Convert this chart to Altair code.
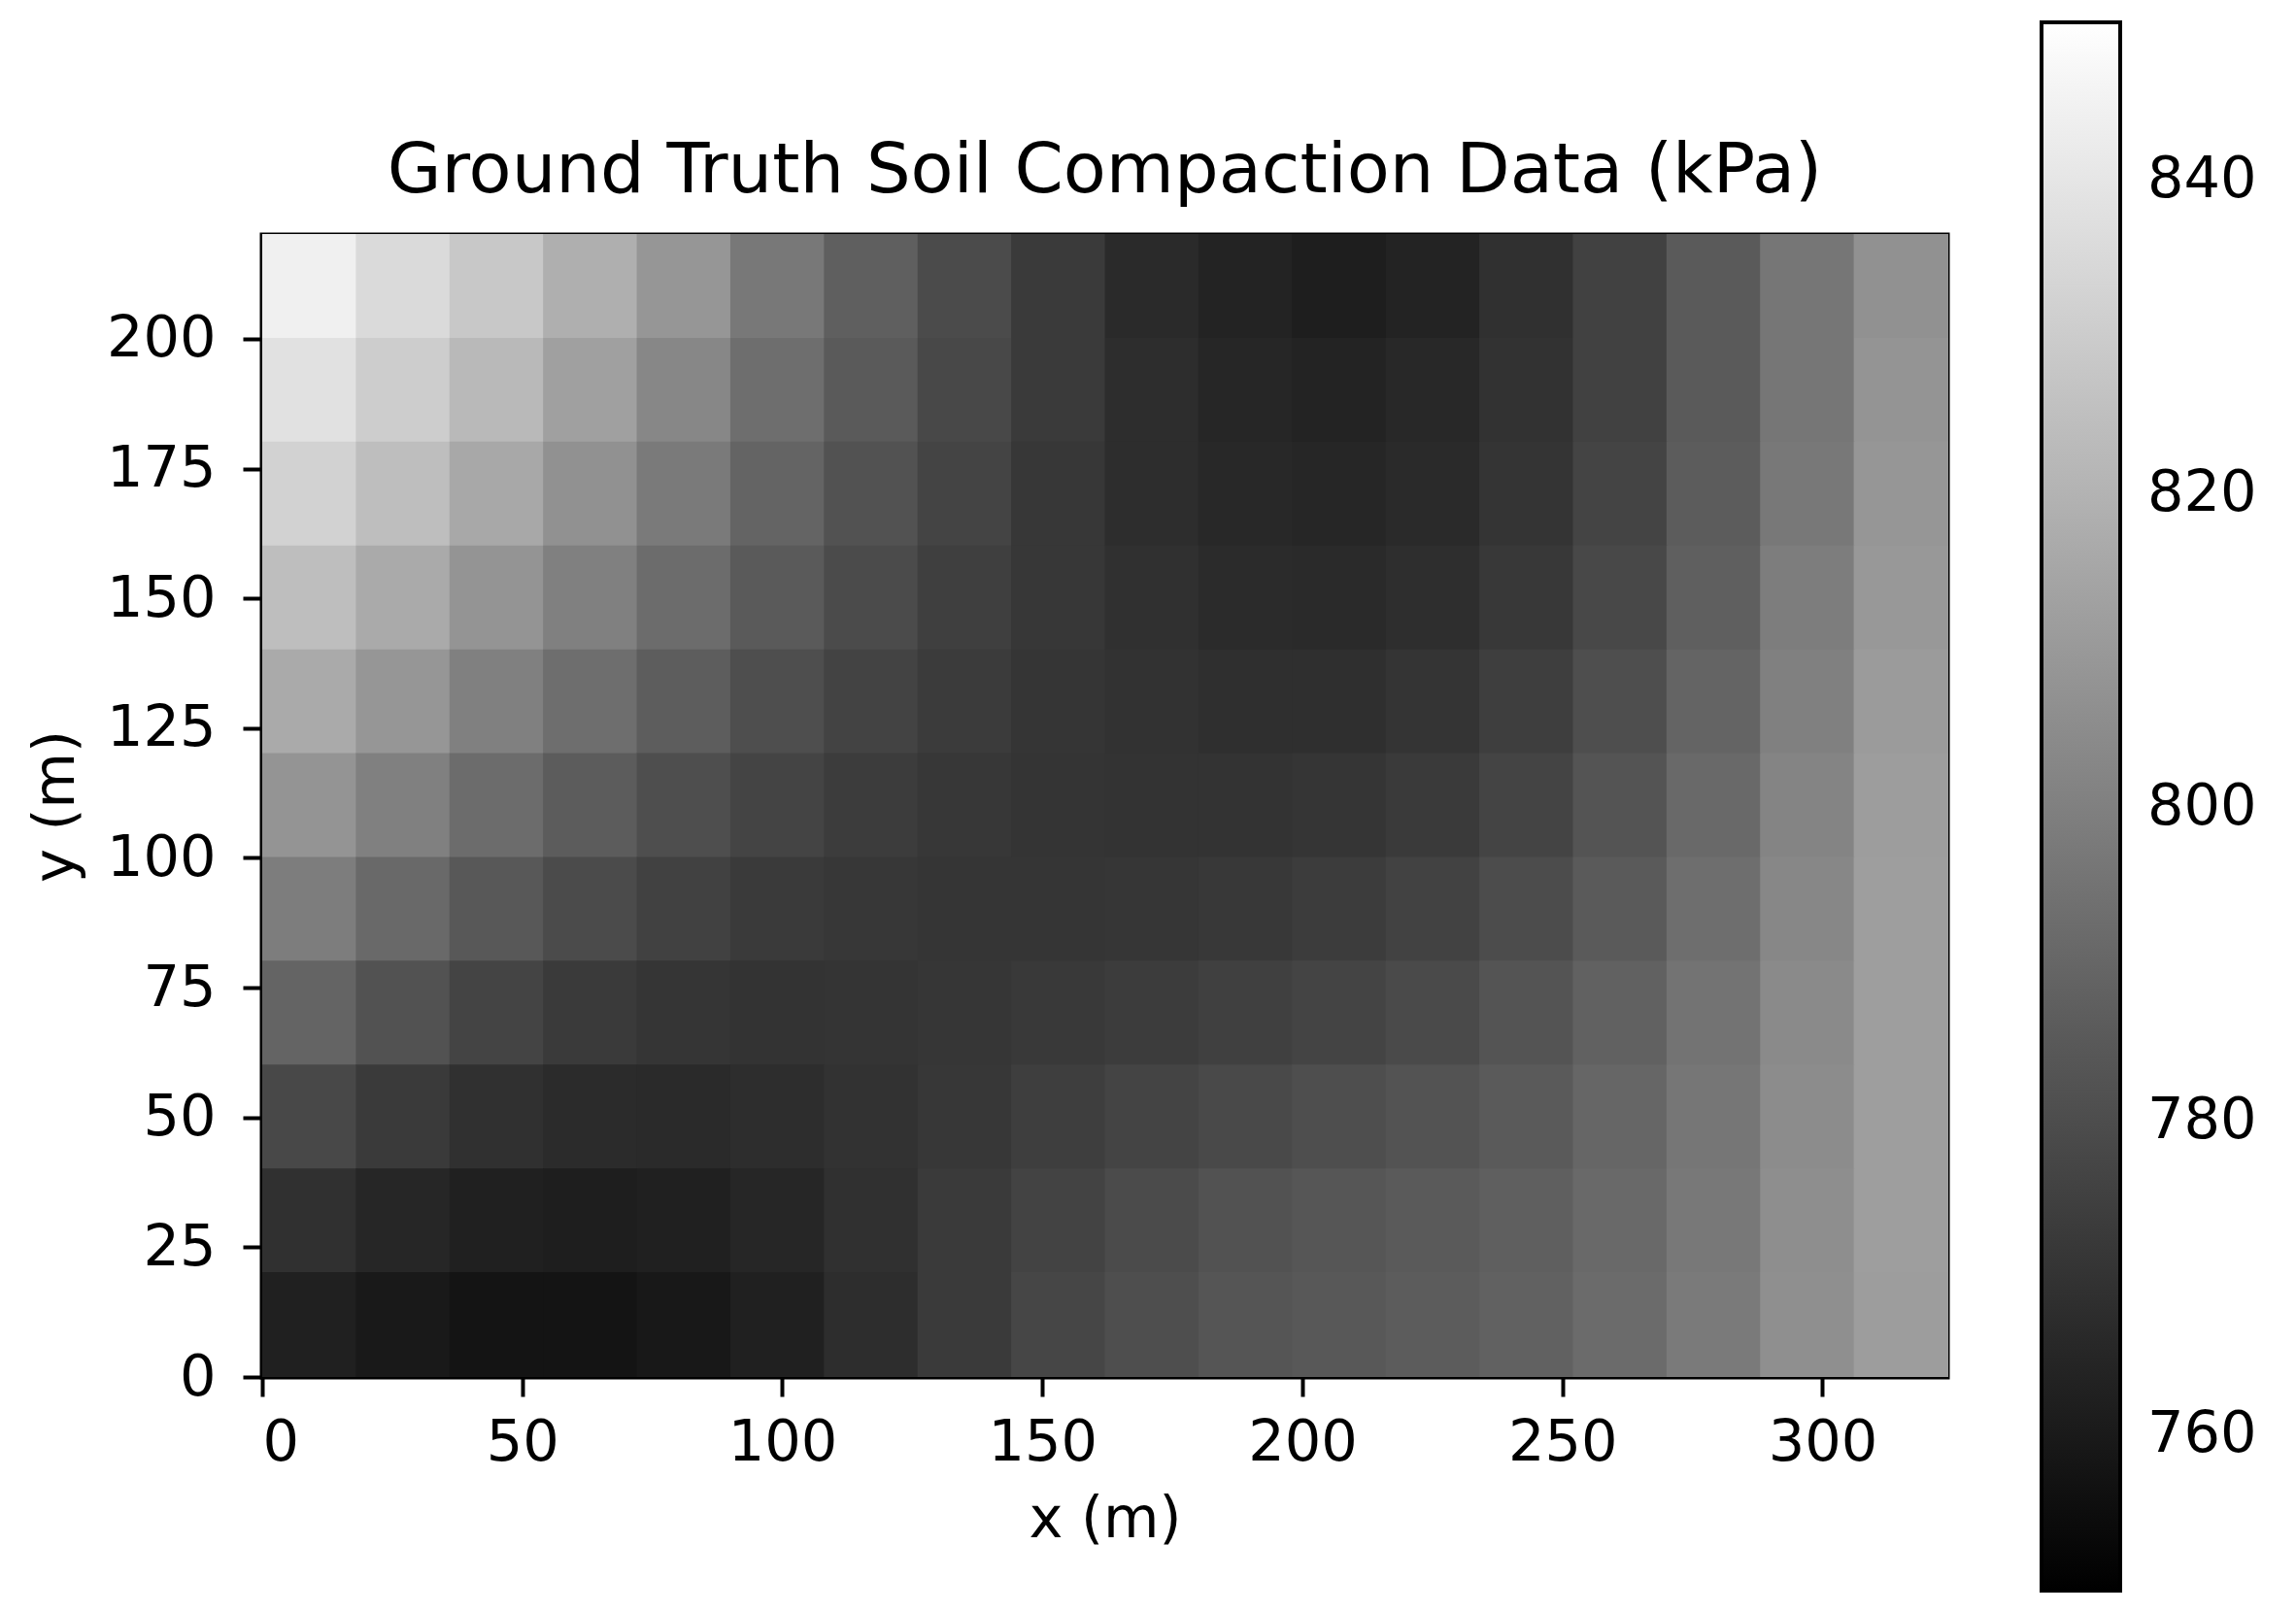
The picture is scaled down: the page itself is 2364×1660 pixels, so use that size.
import altair as alt
import pandas as pd

# cell centres (m)
x_centers = [9, 27, 45, 63, 81, 99, 117, 135, 153, 171, 189, 207, 225, 243, 261, 279, 297, 315]
y_centers = [210, 190, 170, 150, 130, 110, 90, 70, 50, 30, 10]
cell_w = 18
cell_h = 20

# soil compaction (kPa), rows top (y=210) to bottom (y=10)
row_210 = [844.1, 835.5, 828.4, 818.6, 808.8, 797.0, 787.2, 779.4, 772.7, 766.5, 763.7, 761.8, 763.7, 768.8, 775.5, 785.3, 796.3, 806.8]
row_190 = [838.2, 830.4, 822.5, 812.7, 802.9, 793.1, 785.3, 778.2, 772.7, 767.6, 764.9, 763.7, 765.7, 769.6, 775.5, 785.3, 796.3, 808.0]
row_170 = [832.3, 824.5, 815.9, 806.8, 797.8, 789.2, 782.1, 776.7, 771.6, 767.6, 765.7, 764.9, 766.5, 770.4, 776.7, 786.1, 797.0, 808.8]
row_150 = [824.5, 816.6, 808.0, 800.2, 792.3, 785.3, 779.4, 774.7, 771.6, 768.8, 766.9, 766.5, 768.0, 772.0, 778.2, 787.2, 799.0, 809.6]
row_130 = [816.6, 808.8, 800.2, 793.1, 786.5, 780.6, 776.3, 773.1, 770.8, 769.6, 768.4, 768.4, 770.4, 774.3, 780.6, 789.2, 800.2, 810.8]
row_110 = [808.0, 800.2, 792.3, 786.1, 780.6, 776.7, 773.5, 771.6, 770.4, 770.0, 770.0, 770.8, 772.7, 776.7, 782.9, 791.2, 801.7, 811.5]
row_090 = [799.0, 791.2, 784.5, 779.4, 775.5, 772.7, 771.6, 770.8, 770.8, 771.2, 772.0, 773.5, 775.9, 779.8, 785.3, 793.1, 802.9, 811.9]
row_070 = [789.2, 782.1, 776.7, 772.7, 770.8, 770.0, 770.4, 771.2, 772.3, 773.5, 775.1, 776.7, 779.0, 782.9, 788.0, 795.1, 804.1, 811.9]
row_050 = [778.2, 772.7, 768.8, 766.9, 766.5, 767.6, 769.6, 771.6, 774.3, 776.7, 778.6, 780.6, 782.5, 785.3, 790.0, 796.3, 804.9, 811.9]
row_030 = [768.8, 764.9, 762.5, 761.8, 762.5, 764.9, 768.8, 772.7, 776.3, 779.4, 782.1, 783.7, 785.3, 787.2, 791.2, 797.0, 805.7, 811.9]
row_010 = [762.5, 759.8, 757.8, 757.8, 759.4, 762.5, 767.6, 772.7, 777.4, 780.6, 783.3, 784.5, 786.1, 788.0, 791.9, 797.8, 806.1, 811.5]
rows = [row_210, row_190, row_170, row_150, row_130, row_110, row_090, row_070, row_050, row_030, row_010]

x_ticks = [0, 50, 100, 150, 200, 250, 300]
y_ticks = [0, 25, 50, 75, 100, 125, 150, 175, 200]
cbar_ticks = [760, 780, 800, 820, 840]

records = []
for yc, row in zip(y_centers, rows):
    for xc, v in zip(x_centers, row):
        records.append({"x0": xc - cell_w / 2, "x1": xc + cell_w / 2,
                        "y0": yc - cell_h / 2, "y1": yc + cell_h / 2, "kPa": v})
df = pd.DataFrame(records)

FONT = "DejaVu Sans"
cscale = alt.Scale(domain=[750, 850], range=["#000000", "#ffffff"], interpolate="rgb")

chart = alt.Chart(df).mark_rect(x2Offset=1, y2Offset=-1).encode(
    x=alt.X("x0:Q", scale=alt.Scale(domain=[0, 324], nice=False, zero=False),
            axis=alt.Axis(title="x (m)", values=x_ticks, format="d")),
    x2="x1:Q",
    y=alt.Y("y0:Q", scale=alt.Scale(domain=[0, 220], nice=False, zero=False),
            axis=alt.Axis(title="y (m)", values=y_ticks, format="d")),
    y2="y1:Q",
    color=alt.Color("kPa:Q", scale=cscale,
                    legend=alt.Legend(title=None, orient="none", legendX=1832, legendY=-219,
                                      type="gradient", direction="vertical", gradientLength=1615,
                                      gradientThickness=81, gradientStrokeColor="black",
                                      gradientStrokeWidth=4, values=cbar_ticks,
                                      labelFont=FONT, labelFontSize=59, labelColor="black",
                                      labelOffset=28, labelOverlap=False)),
).properties(
    width=1735,
    height=1176,
    title=alt.TitleParams("Ground Truth Soil Compaction Data (kPa)", font=FONT, fontSize=72,
                          fontWeight="normal", color="black", anchor="middle", frame="group",
                          baseline="alphabetic", offset=0, dy=247),
    autosize=alt.AutoSizeParams(type="none"),
    padding={"left": 262, "top": 234, "right": 351, "bottom": 234},
).configure_view(
    stroke="black", strokeWidth=5
).configure_axis(
    labelFont=FONT, labelFontSize=59, labelColor="black",
    titleFont=FONT, titleFontSize=59, titleColor="black", titleFontWeight="normal",
    tickColor="black", tickWidth=4, tickSize=20, domain=False, grid=False,
).configure_axisX(
    labelPadding=18, titlePadding=20
).configure_axisY(
    labelPadding=28, titlePadding=22
)

chart.save("out.html", embed_options={"renderer": "svg", "actions": False})
